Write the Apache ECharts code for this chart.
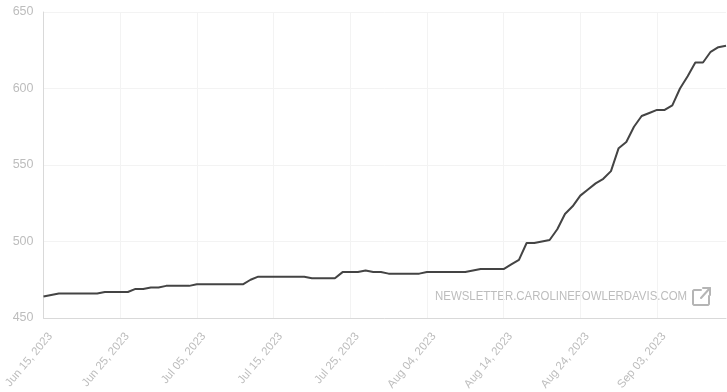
<!DOCTYPE html>
<html><head><meta charset="utf-8">
<style>html,body{margin:0;padding:0;background:#fff}#c{width:727px;height:392px}</style>
<script src="https://cdn.jsdelivr.net/npm/echarts@6/dist/echarts.min.js"></script>
</head><body><div id="c"></div>
<script>
const dates = [
"Jun 15, 2023","Jun 16, 2023","Jun 17, 2023","Jun 18, 2023","Jun 19, 2023","Jun 20, 2023","Jun 21, 2023","Jun 22, 2023","Jun 23, 2023","Jun 24, 2023",
"Jun 25, 2023","Jun 26, 2023","Jun 27, 2023","Jun 28, 2023","Jun 29, 2023","Jun 30, 2023","Jul 01, 2023","Jul 02, 2023","Jul 03, 2023","Jul 04, 2023",
"Jul 05, 2023","Jul 06, 2023","Jul 07, 2023","Jul 08, 2023","Jul 09, 2023","Jul 10, 2023","Jul 11, 2023","Jul 12, 2023","Jul 13, 2023","Jul 14, 2023",
"Jul 15, 2023","Jul 16, 2023","Jul 17, 2023","Jul 18, 2023","Jul 19, 2023","Jul 20, 2023","Jul 21, 2023","Jul 22, 2023","Jul 23, 2023","Jul 24, 2023",
"Jul 25, 2023","Jul 26, 2023","Jul 27, 2023","Jul 28, 2023","Jul 29, 2023","Jul 30, 2023","Jul 31, 2023","Aug 01, 2023","Aug 02, 2023","Aug 03, 2023",
"Aug 04, 2023","Aug 05, 2023","Aug 06, 2023","Aug 07, 2023","Aug 08, 2023","Aug 09, 2023","Aug 10, 2023","Aug 11, 2023","Aug 12, 2023","Aug 13, 2023",
"Aug 14, 2023","Aug 15, 2023","Aug 16, 2023","Aug 17, 2023","Aug 18, 2023","Aug 19, 2023","Aug 20, 2023","Aug 21, 2023","Aug 22, 2023","Aug 23, 2023",
"Aug 24, 2023","Aug 25, 2023","Aug 26, 2023","Aug 27, 2023","Aug 28, 2023","Aug 29, 2023","Aug 30, 2023","Aug 31, 2023","Sep 01, 2023","Sep 02, 2023",
"Sep 03, 2023","Sep 04, 2023","Sep 05, 2023","Sep 06, 2023","Sep 07, 2023","Sep 08, 2023","Sep 09, 2023","Sep 10, 2023","Sep 11, 2023","Sep 12, 2023"];
const values = [
464,465,466,466,466,466,466,466,467,467,
467,467,469,469,470,470,471,471,471,471,
472,472,472,472,472,472,472,475,477,477,
477,477,477,477,477,476,476,476,476,480,
480,480,481,480,480,479,479,479,479,479,
480,480,480,480,480,480,481,482,482,482,
482,485,488,499,499,500,501,508,518,523,
530,534,538,541,546,561,565,575,582,584,
586,586,589,600,608,617,617,624,627,628];
const yMin = 450, yMax = 650, yStep = 50;
const watermark = "NEWSLETTER.CAROLINEFOWLERDAVIS.COM";
const gray = "#bdbdbd";
const everyTenth = (i) => i % 10 === 0;
const iconStyle = {stroke:'#b5b5b5',lineWidth:2,fill:null,lineJoin:'round',lineCap:'round'};
const chart = echarts.init(document.getElementById('c'), null, {renderer:'canvas'});
chart.setOption({
  animation:false,
  backgroundColor:'#fff',
  grid:{left:43.5,right:1,top:12,bottom:74,outerBoundsMode:'none'},
  xAxis:{type:'category',data:dates,boundaryGap:false,
    axisLine:{lineStyle:{color:'#d9d9d9',width:1}},
    axisTick:{show:false},
    axisLabel:{interval:everyTenth,rotate:50,color:gray,fontSize:11.5,fontFamily:'Liberation Sans',margin:10.5,verticalAlign:'top',padding:[3,0,0,0],hideOverlap:false},
    splitLine:{show:true,interval:everyTenth,lineStyle:{color:'#f3f3f3',width:1}}},
  yAxis:{type:'value',min:yMin,max:yMax,interval:yStep,
    axisLine:{show:true,lineStyle:{color:'#d9d9d9',width:1}},
    axisTick:{show:false},
    axisLabel:{color:gray,fontSize:12.5,fontFamily:'Liberation Sans',margin:10,padding:[4,0,0,0]},
    splitLine:{show:true,lineStyle:{color:'#f3f3f3',width:1}}},
  series:[{type:'line',data:values,symbol:'none',smooth:false,lineStyle:{color:'#444444',width:2},silent:true}],
  graphic:[
    {type:'text',x:435,y:290,scaleX:0.88,style:{text:watermark,fill:gray,font:'13px "Liberation Sans"'}},
    {type:'polyline',shape:{points:[[701,290],[694,290],[693,291],[693,304],[694,305],[708,305],[709,304],[709,296]]},style:iconStyle},
    {type:'polyline',shape:{points:[[701,298],[710,288]]},style:iconStyle},
    {type:'polyline',shape:{points:[[703,288],[710,288],[710,295]]},style:iconStyle}
  ]
});
</script></body></html>
